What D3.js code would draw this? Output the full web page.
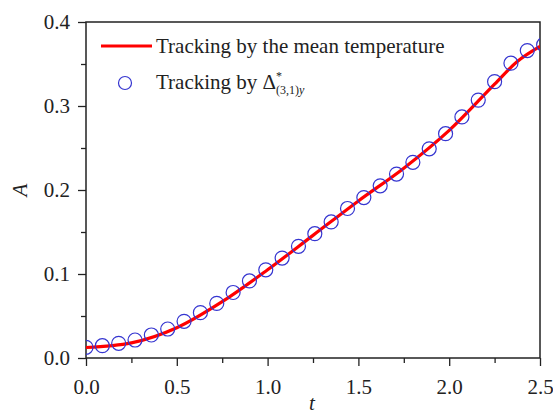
<!DOCTYPE html>
<html><head><meta charset="utf-8">
<script src="https://cdn.jsdelivr.net/npm/d3@7"></script>
<style>body{margin:0;background:#fff}svg{display:block}</style>
</head><body><div id="c"></div>
<script>
// Circle series: Tracking by Delta*(3,1)y
const circleT = [0,0.09,0.18,0.27,0.36,0.45,0.54,0.63,0.72,0.81,0.90,0.99,1.08,1.17,1.26,1.35,1.44,1.53,1.62,1.71,1.80,1.89,1.98,2.07,2.16,2.25,2.34,2.43,2.52];
const circleA = [0.0127,0.0147,0.0175,0.0214,0.0274,0.0345,0.0437,0.054,0.065,0.078,0.0917,0.105,0.119,0.133,0.148,0.162,0.178,0.191,0.205,0.219,0.233,0.249,0.267,0.287,0.307,0.329,0.351,0.366,0.373];
// Line series: Tracking by the mean temperature
const lineT = [0,0.25,0.5,0.75,1.0,1.25,1.5,1.75,2.0,2.25,2.375,2.5];
const lineA = [0.0125,0.018,0.036,0.067,0.105,0.146,0.187,0.226,0.271,0.326,0.353,0.371];
const xTicks = [0,0.5,1.0,1.5,2.0,2.5];
const yTicks = [0,0.1,0.2,0.3,0.4];
const xMinor = [0.25,0.75,1.25,1.75,2.25];
const yMinor = [0.05,0.15,0.25,0.35];

const FONT = "'Liberation Serif', 'Times New Roman', Times, serif";
const FS = 21;
const W=553,H=414, L=86,R=540,T=22,B=358;
const svg=d3.select("#c").append("svg").attr("width",W).attr("height",H)
  .attr("font-family",FONT);
const x=d3.scaleLinear().domain([0,2.5]).range([L,R]);
const y=d3.scaleLinear().domain([0,0.4]).range([B,T]);

svg.append("defs").append("clipPath").attr("id","clip").append("rect")
  .attr("x",L).attr("y",T).attr("width",R-L).attr("height",B-T);

// axes
const xa=svg.append("g").attr("transform",`translate(0,${B})`)
  .call(d3.axisBottom(x).tickValues(xTicks).tickFormat(d3.format(".1f")).tickSize(8));
svg.append("g").attr("transform",`translate(0,${B})`)
  .call(d3.axisBottom(x).tickValues(xMinor).tickFormat("").tickSize(5));
const ya=svg.append("g").attr("transform",`translate(${L},0)`)
  .call(d3.axisLeft(y).tickValues(yTicks).tickFormat(d3.format(".1f")).tickSize(8).tickPadding(8));
svg.append("g").attr("transform",`translate(${L},0)`)
  .call(d3.axisLeft(y).tickValues(yMinor).tickFormat("").tickSize(5));
svg.selectAll(".domain").remove();
svg.selectAll("g").attr("font-family",FONT);
svg.selectAll(".tick line").attr("stroke","#222").attr("stroke-width",1.3);
svg.selectAll(".tick text").attr("font-size",FS).attr("fill","#222").attr("font-family",FONT);
xa.selectAll(".tick text").attr("y",36).attr("dy",0);
ya.selectAll(".tick text").attr("dy","0.3em");

// frame
svg.append("rect").attr("x",L).attr("y",T).attr("width",R-L).attr("height",B-T)
  .attr("fill","none").attr("stroke","#222").attr("stroke-width",1.5);

const plot=svg.append("g").attr("clip-path","url(#clip)");
const lineData=lineT.map((t,i)=>[t,lineA[i]]);
plot.append("path").datum(lineData)
  .attr("d",d3.line().x(d=>x(d[0])).y(d=>y(d[1])).curve(d3.curveMonotoneX))
  .attr("fill","none").attr("stroke","#ff0000").attr("stroke-width",3.2);
plot.selectAll("circle.m").data(circleT.map((t,i)=>[t,circleA[i]])).enter().append("circle")
  .attr("class","m").attr("cx",d=>x(d[0])).attr("cy",d=>y(d[1])).attr("r",7)
  .attr("fill","none").attr("stroke","#3535d0").attr("stroke-width",1.2);

// axis titles
svg.append("text").attr("x",312).attr("y",410).attr("text-anchor","middle").attr("fill","#222")
  .attr("font-size",FS).attr("font-style","italic").text("t");
svg.append("text").attr("transform","translate(27,190) rotate(-90)").attr("text-anchor","middle").attr("fill","#222")
  .attr("font-size",FS).attr("font-style","italic").text("A");

// legend
svg.append("line").attr("x1",101).attr("x2",152).attr("y1",46).attr("y2",46)
  .attr("stroke","#ff0000").attr("stroke-width",3.2);
svg.append("text").attr("x",156).attr("y",53).attr("font-size",FS).attr("fill","#222").text("Tracking by the mean temperature");
svg.append("circle").attr("cx",125).attr("cy",83).attr("r",6.5)
  .attr("fill","none").attr("stroke","#3535d0").attr("stroke-width",1.2);
const lt=svg.append("text").attr("x",156).attr("y",89).attr("font-size",FS).attr("fill","#222");
lt.append("tspan").text("Tracking by \u0394");
lt.append("tspan").attr("font-size",12).attr("dy",-9).text("*");
lt.append("tspan").attr("font-size",12).attr("dx",-6).attr("dy",14).text("(3,1)");
lt.append("tspan").attr("font-size",12).attr("font-style","italic").text("y");
</script></body></html>
